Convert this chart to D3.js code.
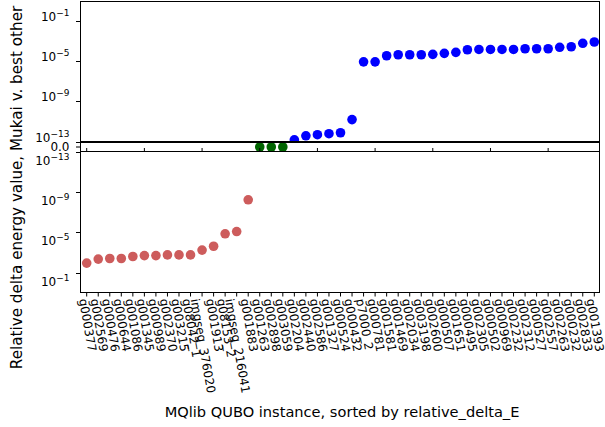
<!DOCTYPE html>
<html><head><meta charset="utf-8">
<script src="https://cdn.jsdelivr.net/npm/d3@7/dist/d3.min.js"></script>
<style>
body{margin:0;background:#fff}
svg{display:block}
text{font-family:"DejaVu Sans",sans-serif;fill:#000}
</style>
</head><body>
<svg id="chart" width="605" height="427"></svg>
<script>
// ---- data ----
const instances = [
 "g000377","g002569","g000476","g000644","g001086","g001345","g000989","g002370","g003215","g08042_1",
 "imgseg_376020","g001913","g08153_2","imgseg_216041","g001883","g001263","g002898","g003059","g002204","g002440",
 "g002586","g001327","g000524","g000432","p7000_2","g000781","g001581","g001469","g002034","g003198",
 "g002600","g000507","g001651","g000495","g002305","g000502","g000969","g002232","g002312","g000527",
 "g002557","g002263","g000232","g002833","g001393"
];
const relativeDeltaE = [
 -1.17e-2,-4.7e-3,-4.1e-3,-4.1e-3,-2.6e-3,-2.1e-3,-2.1e-3,-1.8e-3,-1.8e-3,-1.8e-3,
 -6.0e-4,-2.5e-4,-1.45e-5,-8.7e-6,-6.2e-9,0,0,0,1.48e-13,3.7e-13,
 4.7e-13,5.9e-13,7.4e-13,1.48e-11,7.9e-6,7.9e-6,3.2e-5,4.0e-5,4.0e-5,4.0e-5,
 4.4e-5,5.5e-5,6.9e-5,1.26e-4,1.35e-4,1.35e-4,1.35e-4,1.35e-4,1.58e-4,1.58e-4,
 1.58e-4,2.2e-4,2.5e-4,5.5e-4,7.4e-4
];
const logTicks = [1e-1,1e-5,1e-9,1e-13];
const zeroTicks = [0];
const xTitle = "MQlib QUBO instance, sorted by relative_delta_E";
const yTitle = "Relative delta energy value, Mukai v. best other";
const posColor = "#0000ff", zeroColor = "#006400", negColor = "#cd5c5c";

// ---- layout ----
const svg = d3.select("#chart");
const L = 80.5, R = 599.5;
const topP = {y0:1.5, y1:141.5};
const midP = {y0:142.5, y1:151.5};
const botP = {y0:151.5, y1:292.5};
const rad = 4.8;

const x = d3.scalePoint().domain(instances).range([86.7, 594.3]);
const yTop = d3.scaleLog().domain([1e-13,1e-1]).range([141.5,20.5]);
const yMid = d3.scaleLinear().domain([-0.055,0.055]).range([151.5,142.5]);
const yBot = d3.scaleLog().domain([1e-13,1e-1]).range([151.5,272.5]);

const data = instances.map((k,i)=>({k, v: relativeDeltaE[i]}));

const defs = svg.append("defs");
function clip(id,p){
  defs.append("clipPath").attr("id",id).append("rect")
    .attr("x",L).attr("y",p.y0).attr("width",R-L).attr("height",p.y1-p.y0);
}
clip("cTop",topP); clip("cMid",{y0:141.5,y1:152}); clip("cBot",botP);

// points
svg.append("g").attr("clip-path","url(#cTop)").selectAll("circle")
  .data(data.filter(d=>d.v>0)).join("circle")
  .attr("cx",d=>x(d.k)).attr("cy",d=>yTop(d.v)).attr("r",rad).attr("fill",posColor);
svg.append("g").attr("clip-path","url(#cMid)").selectAll("circle")
  .data(data.filter(d=>d.v===0)).join("circle")
  .attr("cx",d=>x(d.k)).attr("cy",d=>yMid(d.v)).attr("r",rad).attr("fill",zeroColor);
svg.append("g").attr("clip-path","url(#cBot)").selectAll("circle")
  .data(data.filter(d=>d.v<0)).join("circle")
  .attr("cx",d=>x(d.k)).attr("cy",d=>yBot(-d.v)).attr("r",rad).attr("fill",negColor);

// frames
function frame(p){
  svg.append("rect").attr("x",L).attr("y",p.y0).attr("width",R-L).attr("height",p.y1-p.y0)
    .attr("fill","none").attr("stroke","#000").attr("stroke-width",1);
}
frame(topP); frame(midP); frame(botP);

// y ticks
const sup = t => "\u2212" + Math.round(-Math.log10(t));
function logAxis(scale, ticks, dyBase){
  const g = svg.append("g");
  ticks.forEach(t=>{
    const y = Math.round(scale(t))+0.5;
    g.append("line").attr("x1",L-4.5).attr("x2",L).attr("y1",y).attr("y2",y).attr("stroke","#000");
    const tx = g.append("text").attr("x",69.5).attr("y",y+dyBase).attr("text-anchor","end").attr("font-size",12);
    tx.append("tspan").text("10");
    tx.append("tspan").attr("dy",-5).attr("font-size",9).text(sup(t));
  });
}
logAxis(yTop, logTicks, -0.5);
logAxis(yBot, logTicks, 12.5);
zeroTicks.forEach(t=>{
  const y = yMid(t);
  svg.append("line").attr("x1",L-4.5).attr("x2",L).attr("y1",y).attr("y2",y).attr("stroke","#000");
  svg.append("text").attr("x",69.5).attr("y",y+4.3).attr("text-anchor","end").attr("font-size",12).text("0.0");
});

// x ticks on middle panel (every 5th)
instances.forEach((k,i)=>{
  if(i%5===0){
    svg.append("line").attr("x1",x(k)).attr("x2",x(k)).attr("y1",148).attr("y2",151.5).attr("stroke","#000");
  }
});
// x ticks and labels on bottom panel
const ang = 80*Math.PI/180, c = Math.cos(ang), s = Math.sin(ang);
const fs = 12, asc = 0.76*fs, desc = 0.24*fs;
const xl = svg.append("g");
instances.forEach(k=>{
  const X = x(k);
  xl.append("line").attr("x1",X).attr("x2",X).attr("y1",botP.y1).attr("y2",botP.y1+4).attr("stroke","#000");
  const t = xl.append("text").attr("font-size",fs).text(k);
  const len = t.node().getComputedTextLength();
  const cx = (len*c + (asc-desc)*s)/2;
  const ox = X - cx, oy = 298 + asc*c;
  t.attr("transform",`translate(${ox},${oy}) rotate(80)`);
});

// titles
svg.append("text").attr("x",342).attr("y",416.5).attr("text-anchor","middle").attr("font-size",14.6).text(xTitle);
svg.append("text").attr("transform","translate(21.5,187.5) rotate(-90)").attr("text-anchor","middle").attr("font-size",15.2).text(yTitle);
</script>
</body></html>
